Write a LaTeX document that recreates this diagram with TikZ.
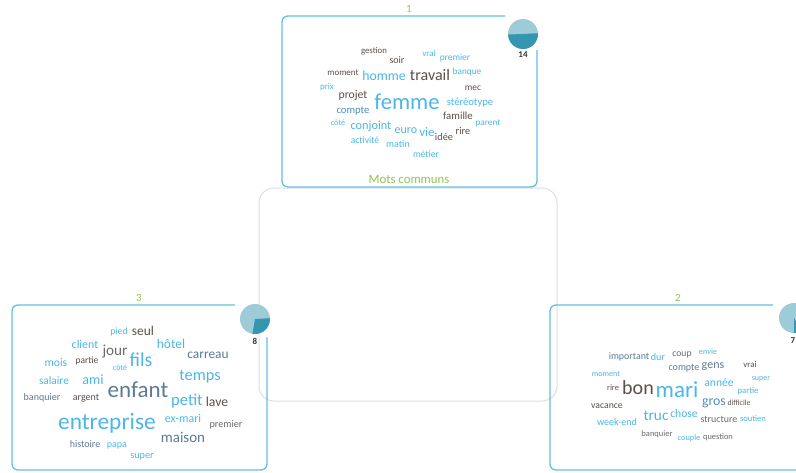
\documentclass[tikz,border=0pt]{standalone}
\usepackage{fontspec}
\setmainfont{Carlito}
\definecolor{lb}{RGB}{75,182,232}
\definecolor{mb}{RGB}{80,140,190}
\definecolor{sl}{RGB}{92,122,148}
\definecolor{dk}{RGB}{92,78,72}
\definecolor{gy}{RGB}{105,105,105}
\definecolor{boxblue}{RGB}{95,192,226}
\definecolor{piel}{RGB}{158,203,216}
\definecolor{pied}{RGB}{52,150,175}
\definecolor{grn}{RGB}{146,196,80}
\definecolor{cgray}{RGB}{222,222,222}
\tikzset{
  cw/.style={inner sep=0pt,outer sep=0pt,anchor=base},
  framebox/.style={draw=boxblue,line width=1.3pt,rounded corners=6pt},
  numlab/.style={inner sep=0pt,text=grn,font=\fontsize{11}{11}\selectfont},
  countlab/.style={inner sep=0pt,text=black!80,font=\fontsize{9}{9}\selectfont\bfseries},
}
\newcommand\wcl[6]{\node[cw,text=#5,font={\fontsize{#4}{#4}\selectfont},yshift={-0.3*#4pt}] (#1) at (#2,#3) {#6};}
\begin{document}
\begin{tikzpicture}[x=1pt,y=-1pt]
\useasboundingbox (0,0) rectangle (796,472);
% central gray box
\draw[cgray,line width=1pt,rounded corners=15pt] (259,188) rectangle (557,401);
% frames
\draw[framebox] (505,16) -- (282,16) -- (282,187) -- (537,187) -- (537,50);
\draw[framebox] (235,305) -- (12,305) -- (12,470) -- (267,470) -- (267,337);
\draw[framebox] (773,305) -- (550,305) -- (550,470) -- (810,470);
% pies
\coordinate (p1) at (523,34);
\coordinate (p3) at (255,319);
\coordinate (p2) at (794,318);
\fill[piel] (p1) circle[radius=15];
\fill[pied] (p1) -- ++(-3:15) arc[start angle=-3,end angle=178,radius=15] -- cycle;
\fill[piel] (p3) circle[radius=15];
\fill[pied] (p3) -- ++(-3:15) arc[start angle=-3,end angle=100,radius=15] -- cycle;
\fill[piel] (p2) circle[radius=15];
\fill[pied] (p2) -- ++(60:15) arc[start angle=60,end angle=90,radius=15] -- cycle;
\node[countlab] (c1) at (523,55) {14};
\node[countlab] (c3) at (255,341) {8};
\node[countlab] (c2) at (793,341) {7};
% group numbers
\node[numlab] (n1) at (409,9) {1};
\node[numlab] (n3) at (139,298) {3};
\node[numlab] (n2) at (678,298) {2};
\node[inner sep=0pt,text=grn,font=\fontsize{12.8}{12.8}\selectfont] (mc) at (409,179) {Mots communs};
% top cloud
\wcl{a1}{374}{51}{8.8}{dk}{gestion}
\wcl{a2}{397}{60}{10}{dk}{soir}
\wcl{a3}{429}{54}{9}{lb}{vrai}
\wcl{a4}{455}{58}{9.4}{lb}{premier}
\wcl{a5}{343}{73}{9}{dk}{moment}
\wcl{a6}{384}{76}{13.8}{lb}{homme}
\wcl{a7}{430}{76}{16}{dk}{travail}
\wcl{a8}{467}{72}{9.3}{lb}{banque}
\wcl{a9}{327}{87}{8.9}{lb}{prix}
\wcl{a10}{473}{88}{9.4}{dk}{mec}
\wcl{a11}{353}{95}{11.7}{dk}{projet}
\wcl{a12}{407}{103}{22.7}{lb}{femme}
\wcl{a13}{470}{102}{10.6}{lb}{stéréotype}
\wcl{a14}{353}{110}{10.7}{mb}{compte}
\wcl{a15}{458}{116}{10.8}{dk}{famille}
\wcl{a16}{488}{123}{9.2}{lb}{parent}
\wcl{a17}{338}{123}{8.2}{lb}{côté}
\wcl{a18}{371}{126}{12.3}{lb}{conjoint}
\wcl{a19}{406}{130}{12}{lb}{euro}
\wcl{a20}{427}{133}{13}{lb}{vie}
\wcl{a21}{444}{137}{10.3}{dk}{idée}
\wcl{a22}{463}{131}{10.3}{dk}{rire}
\wcl{a23}{365}{141}{9.6}{lb}{activité}
\wcl{a24}{398}{144}{10}{lb}{matin}
\wcl{a25}{426}{155}{9.6}{lb}{métier}
% left cloud
\wcl{b1}{119}{332}{9.7}{lb}{pied}
\wcl{b2}{143}{331}{13.4}{dk}{seul}
\wcl{b3}{85}{345}{11.9}{lb}{client}
\wcl{b4}{115}{351}{15.2}{gy}{jour}
\wcl{b5}{171}{344}{13.4}{lb}{hôtel}
\wcl{b6}{208}{354}{13.4}{sl}{carreau}
\wcl{b7}{56}{363}{11.6}{lb}{mois}
\wcl{b8}{87}{361}{9.5}{dk}{partie}
\wcl{b9}{120}{368}{8}{lb}{côté}
\wcl{b10}{141}{361}{19.7}{lb}{fils}
\wcl{b11}{200}{376}{16.3}{lb}{temps}
\wcl{b12}{54}{381}{11.3}{lb}{salaire}
\wcl{b13}{93}{380}{14}{lb}{ami}
\wcl{b14}{138}{391}{23}{sl}{enfant}
\wcl{b15}{42}{397}{10}{sl}{banquier}
\wcl{b16}{86}{397}{10}{dk}{argent}
\wcl{b17}{187}{401}{16.5}{lb}{petit}
\wcl{b18}{217}{402}{13.7}{dk}{lave}
\wcl{b19}{107}{422}{23.4}{lb}{entreprise}
\wcl{b20}{183}{419}{11.9}{lb}{ex-mari}
\wcl{b21}{226}{424}{10.2}{gy}{premier}
\wcl{b22}{183}{438}{15}{sl}{maison}
\wcl{b23}{85}{444}{10}{sl}{histoire}
\wcl{b24}{117}{444}{10}{lb}{papa}
\wcl{b25}{142}{455}{10.2}{lb}{super}
% right cloud
\wcl{r1}{629}{357}{9.9}{sl}{important}
\wcl{r2}{658}{357}{10.2}{lb}{dur}
\wcl{r3}{682}{354}{9.7}{gy}{coup}
\wcl{r4}{708}{352}{8.3}{lb}{envie}
\wcl{r5}{684}{367}{10}{sl}{compte}
\wcl{r6}{713}{365}{12}{sl}{gens}
\wcl{r7}{750}{365}{8.8}{dk}{vrai}
\wcl{r8}{606}{374}{8.1}{lb}{moment}
\wcl{r9}{761}{378}{8}{lb}{super}
\wcl{r10}{613}{388}{8.4}{dk}{rire}
\wcl{r11}{638}{388}{20}{dk}{bon}
\wcl{r12}{677}{391}{23}{lb}{mari}
\wcl{r13}{719}{383}{11.6}{lb}{année}
\wcl{r14}{748}{391}{8.7}{lb}{partie}
\wcl{r15}{714}{401}{13.8}{mb}{gros}
\wcl{r16}{739}{403}{7.8}{dk}{difficile}
\wcl{r17}{607}{406}{9.7}{dk}{vacance}
\wcl{r18}{617}{422}{10}{lb}{week-end}
\wcl{r19}{656}{416}{15.3}{lb}{truc}
\wcl{r20}{684}{414}{11.6}{lb}{chose}
\wcl{r21}{719}{420}{9.9}{gy}{structure}
\wcl{r22}{753}{419}{8.6}{lb}{soutien}
\wcl{r23}{657}{434}{8.5}{gy}{banquier}
\wcl{r24}{689}{438}{8.3}{lb}{couple}
\wcl{r25}{718}{437}{8.4}{gy}{question}
\end{tikzpicture}
\end{document}
